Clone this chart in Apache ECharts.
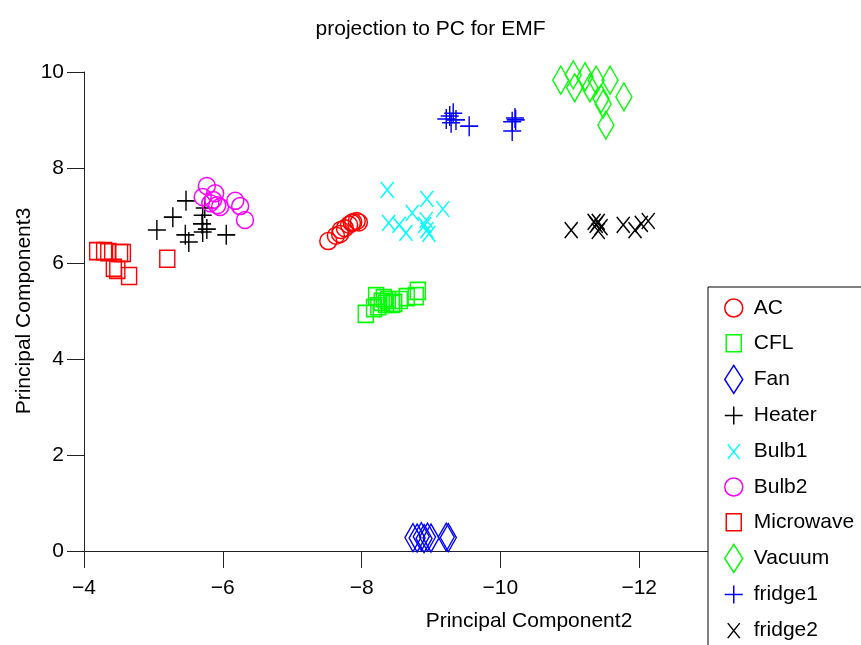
<!DOCTYPE html>
<html>
<head>
<meta charset="utf-8">
<script src="https://cdn.jsdelivr.net/npm/echarts@6/dist/echarts.min.js"></script>
<style>
html, body { margin: 0; padding: 0; background: #fff; }
#main { width: 861px; height: 645px; }
</style>
</head>
<body>
<div id="main"></div>
<script>
// data: [PC2, PC3]
var AC = [[-7.52, 6.47], [-7.63, 6.58], [-7.70, 6.70], [-7.76, 6.74], [-7.82, 6.81], [-7.88, 6.87], [-7.93, 6.89], [-7.86, 6.85], [-7.96, 6.86], [-7.69, 6.62]];
var CFL = [[-8.06, 4.95], [-8.18, 5.07], [-8.21, 5.32], [-8.29, 5.20], [-8.38, 5.24], [-8.47, 5.18], [-8.55, 5.24], [-8.65, 5.30], [-8.81, 5.43], [-8.78, 5.32], [-8.35, 5.16], [-8.24, 5.11], [-8.44, 5.16], [-8.32, 5.28]];
var Fan = [[-8.74, 0.28], [-8.80, 0.27], [-8.86, 0.30], [-8.90, 0.26], [-8.95, 0.29], [-9.00, 0.27], [-9.22, 0.29], [-9.25, 0.28]];
var Heater = [[-5.05, 6.70], [-5.28, 6.97], [-5.47, 7.31], [-5.46, 6.60], [-5.51, 6.45], [-5.71, 7.01], [-5.74, 7.16], [-5.71, 6.66], [-5.77, 6.72], [-6.05, 6.60], [-5.70, 6.83]];
var Bulb1 = [[-8.37, 7.54], [-8.94, 7.35], [-9.17, 7.14], [-8.73, 7.06], [-8.39, 6.85], [-8.54, 6.81], [-8.64, 6.64], [-8.93, 6.91], [-8.94, 6.70], [-8.97, 6.62], [-8.91, 6.81]];
var Bulb2 = [[-5.77, 7.62], [-5.71, 7.39], [-5.89, 7.47], [-5.92, 7.22], [-5.86, 7.33], [-5.96, 7.18], [-6.18, 7.31], [-6.25, 7.20], [-6.32, 6.91], [-5.82, 7.26]];
var Microwave = [[-4.19, 6.26], [-4.29, 6.26], [-4.35, 6.24], [-4.52, 6.22], [-4.56, 6.22], [-4.48, 5.87], [-4.65, 5.74], [-5.20, 6.10], [-4.43, 5.91]];
var Vacuum = [[-10.87, 9.83], [-11.05, 9.94], [-11.07, 9.67], [-11.22, 9.90], [-11.38, 9.83], [-11.58, 9.83], [-11.45, 9.44], [-11.48, 9.33], [-11.52, 8.89], [-11.78, 9.48], [-11.29, 9.67]];
var fridge1 = [[-9.22, 9.02], [-9.27, 9.08], [-9.32, 9.14], [-9.29, 8.94], [-9.55, 8.87], [-10.17, 8.96], [-10.21, 9.04], [-10.17, 8.77], [-10.22, 9.00], [-9.36, 9.00]];
var fridge2 = [[-11.02, 6.70], [-11.35, 6.87], [-11.41, 6.87], [-11.45, 6.76], [-11.41, 6.68], [-11.77, 6.81], [-11.94, 6.70], [-12.03, 6.83], [-12.13, 6.89], [-11.38, 6.81]];

var names = ['AC', 'CFL', 'Fan', 'Heater', 'Bulb1', 'Bulb2', 'Microwave', 'Vacuum', 'fridge1', 'fridge2'];
var sets = [AC, CFL, Fan, Heater, Bulb1, Bulb2, Microwave, Vacuum, fridge1, fridge2];
var colors = ['#ff0000', '#00ff00', '#0000ff', '#000000', '#00ffff', '#ff00ff', '#ff0000', '#00ff00', '#0000ff', '#000000'];

var PLUS = 'path://M0,9L18,9M9,0L9,18';
var CROSS = 'path://M0,0L12,15M12,0L0,15';
var shapes = {
    circle: { symbol: 'circle', size: 17, icon: 'circle' },
    square: { symbol: 'rect', size: [15, 17], icon: 'path://M0,0L0,0M18,28L18,28M1.5,5.5L16.5,5.5L16.5,22.5L1.5,22.5Z' },
    diamond: { symbol: 'diamond', size: [16, 28], icon: 'diamond' },
    plus: { symbol: PLUS, size: [18, 20], icon: 'path://M0,0L0,0M18,28L18,28M0,14L18,14M9,5L9,23' },
    cross: { symbol: CROSS, size: [13, 16], icon: 'path://M0,0L0,0M18,28L18,28M3,6.5L15,21.5M15,6.5L3,21.5' }
};
var kinds = ['circle', 'square', 'diamond', 'plus', 'cross', 'circle', 'square', 'diamond', 'plus', 'cross'];

var minus = function (v) { return String(v).replace('-', '\u2212'); };

var series = names.map(function (n, i) {
    var s = shapes[kinds[i]];
    return {
        name: n,
        type: 'scatter',
        data: sets[i],
        symbol: s.symbol,
        symbolSize: s.size,
        itemStyle: { color: 'transparent', borderColor: colors[i], borderWidth: 1.5, opacity: 1 },
        emphasis: { disabled: true }
    };
});

var chart = echarts.init(document.getElementById('main'));
var option = {
    animation: false,
    backgroundColor: '#fff',
    textStyle: { fontFamily: 'Liberation Sans' },
    title: {
        text: 'projection to PC for EMF',
        left: 'center',
        top: 14,
        textStyle: { fontSize: 21, fontWeight: 'normal', color: '#000', fontFamily: 'Liberation Sans' }
    },
    grid: { left: 84, right: 83, top: 72, bottom: 94, containLabel: false },
    xAxis: {
        type: 'value',
        inverse: true,
        min: -14,
        max: -4,
        interval: 2,
        axisLine: { onZero: false, lineStyle: { color: '#222', width: 1 } },
        axisTick: { length: 17, lineStyle: { color: '#222' } },
        axisLabel: { margin: 27, fontSize: 21, color: '#000', formatter: minus },
        splitLine: { show: false }
    },
    yAxis: {
        type: 'value',
        min: 0,
        max: 10,
        interval: 2,
        axisLine: { show: true, lineStyle: { color: '#222', width: 1 } },
        axisTick: { show: true, length: 17, lineStyle: { color: '#222' } },
        axisLabel: { margin: 20, fontSize: 21, color: '#000' },
        splitLine: { show: false }
    },
    legend: {
        orient: 'vertical',
        left: 708,
        top: 287,
        height: 420,
        padding: [7, 40, 30, 16],
        itemWidth: 18,
        itemHeight: 28,
        itemGap: 6.6,
        backgroundColor: '#fff',
        borderColor: '#000',
        borderWidth: 1,
        z: 10,
        selectedMode: false,
        itemStyle: { borderWidth: 1.5 },
        textStyle: { fontSize: 21, lineHeight: 28, height: 28, padding: [0, 0, 0, 6], color: '#000', fontFamily: 'Liberation Sans' },
        data: names.map(function (n, i) {
            return { name: n, icon: shapes[kinds[i]].icon };
        })
    },
    graphic: [
        {
            type: 'text',
            x: 529, y: 621,
            style: { text: 'Principal Component2', font: '21px "Liberation Sans"', fill: '#000', align: 'center', verticalAlign: 'middle' }
        },
        {
            type: 'text',
            x: 24, y: 311,
            rotation: Math.PI / 2,
            style: { text: 'Principal Component3', font: '21px "Liberation Sans"', fill: '#000', align: 'center', verticalAlign: 'middle' }
        }
    ],
    series: series
};
chart.setOption(option);
</script>
</body>
</html>
